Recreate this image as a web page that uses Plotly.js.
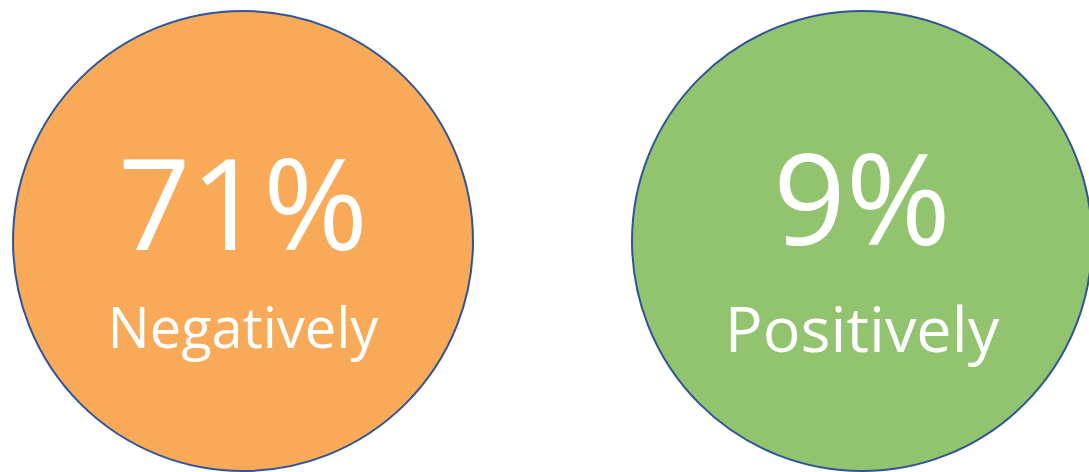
<!DOCTYPE html>
<html>
<head>
<meta charset="utf-8">
<script src="https://cdn.plot.ly/plotly-3.0.1.min.js"></script>
<style>html,body{margin:0;padding:0;background:#fff;}#chart{width:1089px;height:472px;}</style>
</head>
<body>
<div id="chart"></div>
<script>
// Data
var categories = ["Negatively", "Positively"];
var percentValues = [71, 9];
var circleColors = ["#F8AA58", "#92C36E"];

// Styles / layout config
var outlineColor = "#2F5597";
var circleDiameter = 460;
var valueFontSizes = [127, 127];
var labelFontSizes = [56, 63];
var valueY = [22.75, 27.75];
var labelY = [-93, -95.25];
var xIdx = categories.map(function (c, i) { return i; });

var circles = {
  type: "scatter",
  mode: "markers",
  x: xIdx,
  y: categories.map(function () { return 0; }),
  marker: {
    size: circleDiameter,
    color: circleColors,
    line: { color: outlineColor, width: 2 },
    opacity: 1
  },
  hoverinfo: "skip",
  cliponaxis: false
};

var valueText = {
  type: "scatter",
  mode: "text",
  x: xIdx,
  y: valueY,
  text: percentValues.map(function (v) { return v + "%"; }),
  textposition: "middle center",
  textfont: { family: "Open Sans, Noto Sans, sans-serif", size: valueFontSizes, color: "#FFFFFF" },
  hoverinfo: "skip",
  cliponaxis: false
};

var labelText = {
  type: "scatter",
  mode: "text",
  x: xIdx,
  y: labelY,
  text: categories,
  textposition: "middle center",
  textfont: { family: "Open Sans, Noto Sans, sans-serif", size: labelFontSizes, color: "#FFFFFF" },
  hoverinfo: "skip",
  cliponaxis: false
};

var layout = {
  width: 1089,
  height: 472,
  margin: { l: 0, r: 0, t: 0, b: 0, pad: 0 },
  paper_bgcolor: "#FFFFFF",
  plot_bgcolor: "#FFFFFF",
  showlegend: false,
  xaxis: { range: [-0.39257, 1.36672], visible: false, fixedrange: true },
  yaxis: { range: [-231, 241], visible: false, fixedrange: true }
};

Plotly.newPlot("chart", [circles, valueText, labelText], layout, { staticPlot: true, displayModeBar: false });
</script>
</body>
</html>
